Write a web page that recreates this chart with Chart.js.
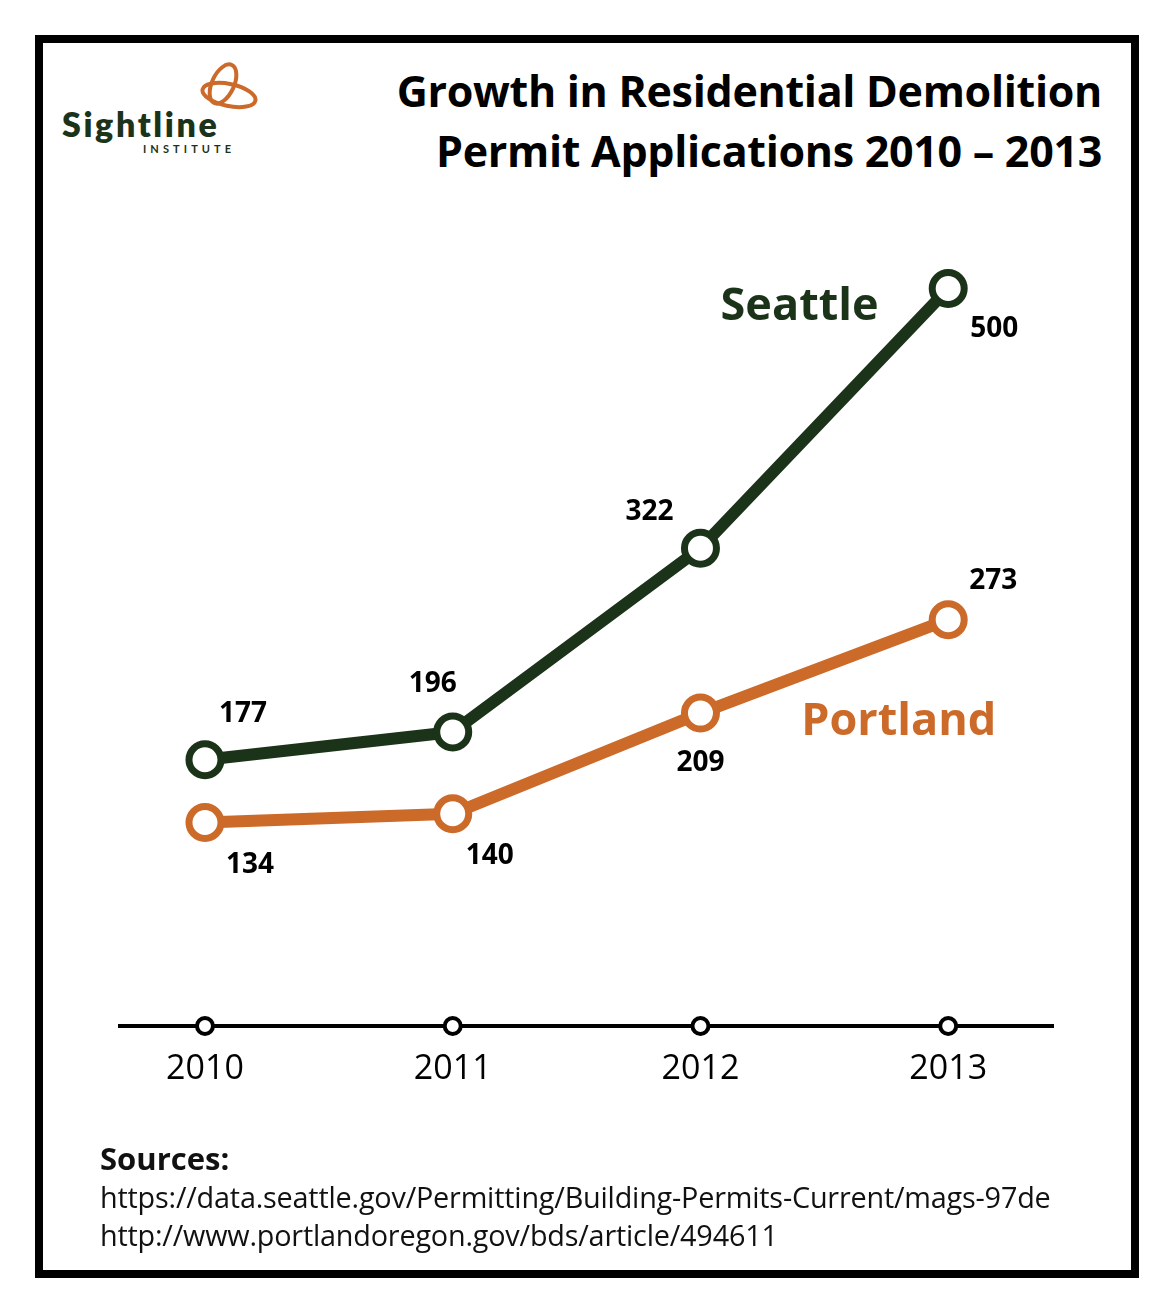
<!DOCTYPE html>
<html>
<head>
<meta charset="utf-8">
<script src="https://cdn.jsdelivr.net/npm/chart.js@4"></script>
<style>
  html, body { margin: 0; padding: 0; background: #fff; }
  body { width: 1175px; height: 1315px; position: relative; overflow: hidden; font-family: "Open Sans", sans-serif; }
  #frame { position: absolute; left: 35px; top: 35px; width: 1088px; height: 1227px; border: 8.5px solid #000; }
  #wrap { position: absolute; left: 0; top: 0; width: 1175px; height: 1315px; }
  .title { position: absolute; right: 73px; top: 61px; text-align: right; font-weight: 700; font-size: 43px; line-height: 60px; color: #000; letter-spacing: -0.3px; white-space: nowrap; }
  .sources { position: absolute; left: 100px; top: 1138px; color: #111; }
  .sources .h { font-weight: 700; font-size: 31px; line-height: 40px; }
  .sources .u { font-size: 28.8px; line-height: 38px; letter-spacing: -0.2px; white-space: nowrap; }
  .logo { position: absolute; left: 58px; top: 55px; }
  .logo .name { position: absolute; left: 4px; top: 48px; font-family: "Lato", sans-serif; font-weight: 800; font-size: 34px; color: #1b3318; letter-spacing: 2.6px; white-space: nowrap; }
  .logo .inst { position: absolute; left: 85px; top: 87px; font-family: "Lato", sans-serif; font-weight: 700; font-size: 11px; color: #1b3318; letter-spacing: 4.1px; white-space: nowrap; }
</style>
</head>
<body>
<div id="frame"></div>
<div class="logo">
  <svg width="210" height="60" style="position:absolute;left:0;top:0">
    <g fill="none" stroke="#cc6a2a" stroke-width="4">
      <ellipse cx="165" cy="29" rx="11" ry="21" transform="rotate(25 165 29)"/>
      <ellipse cx="171" cy="40" rx="27" ry="11" transform="rotate(12 171 40)"/>
    </g>
  </svg>
  <div class="name">Sightline</div>
  <div class="inst">INSTITUTE</div>
</div>
<div class="title">Growth in Residential Demolition<br>Permit Applications 2010 – 2013</div>
<div id="wrap"><canvas id="c"></canvas></div>
<div class="sources">
  <div class="h">Sources:</div>
  <div class="u">https://data.seattle.gov/Permitting/Building-Permits-Current/mags-97de</div>
  <div class="u">http://www.portlandoregon.gov/bds/article/494611</div>
</div>
<script>
// ---- data ----
const years = ['2010', '2011', '2012', '2013'];
const seattle = [177, 196, 322, 500];
const portland = [134, 140, 209, 273];
const seriesNames = ['Seattle', 'Portland'];

// ---- styles ----
const colors = ['#1b3318', '#cc6a2a'];
const labelOffsets = [
  [[38, -46], [-20, -48], [-51, -36], [46, 40]],
  [[45, 43], [37, 42], [0, 50], [45, -39]]
];
const seriesLabelAt = [{ x: 2012.4, y: 487 }, { x: 2012.8, y: 203 }];

const toPts = vals => vals.map((v, i) => ({ x: Number(years[i]), y: v }));

const labelPlugin = {
  id: 'labels',
  afterDatasetsDraw(chart) {
    const ctx = chart.ctx;
    ctx.save();
    ctx.textAlign = 'center';
    ctx.textBaseline = 'middle';
    chart.data.datasets.forEach((ds, di) => {
      const meta = chart.getDatasetMeta(di);
      ctx.font = 'bold 28px "Open Sans"';
      ctx.fillStyle = '#000';
      meta.data.forEach((pt, i) => {
        const o = labelOffsets[di][i];
        ctx.fillText(String(ds.data[i].y), pt.x + o[0], pt.y + o[1]);
      });
      const p = seriesLabelAt[di];
      ctx.font = 'bold 45px "Open Sans"';
      ctx.fillStyle = colors[di];
      ctx.fillText(ds.label, chart.scales.x.getPixelForValue(p.x), chart.scales.y.getPixelForValue(p.y));
    });
    ctx.restore();
  },
  afterDraw(chart) {
    const ctx = chart.ctx;
    const xs = chart.scales.x;
    const yb = chart.chartArea.bottom;
    ctx.save();
    xs.ticks.forEach(t => {
      ctx.beginPath();
      ctx.arc(xs.getPixelForValue(t.value), yb, 8, 0, Math.PI * 2);
      ctx.fillStyle = '#fff';
      ctx.fill();
      ctx.lineWidth = 4;
      ctx.strokeStyle = '#000';
      ctx.stroke();
    });
    ctx.restore();
  }
};

new Chart(document.getElementById('c'), {
  type: 'line',
  data: {
    datasets: [
      { label: seriesNames[0], data: toPts(seattle), borderColor: colors[0], pointBorderColor: colors[0] },
      { label: seriesNames[1], data: toPts(portland), borderColor: colors[1], pointBorderColor: colors[1] }
    ]
  },
  options: {
    responsive: true,
    maintainAspectRatio: false,
    animation: false,
    events: [],
    layout: { padding: { left: 120, right: 122, top: 201, bottom: 219 } },
    elements: {
      line: { borderWidth: 12, tension: 0, borderCapStyle: 'round', borderJoinStyle: 'round' },
      point: { radius: 16, borderWidth: 7, backgroundColor: '#fff' }
    },
    plugins: { legend: { display: false }, tooltip: { enabled: false } },
    scales: {
      x: {
        type: 'linear',
        min: 2009.657,
        max: 2013.423,
        grid: { display: false, drawTicks: false },
        border: { display: true, color: '#000', width: 4 },
        afterFit: s => { s.height = 70; },
        ticks: {
          stepSize: 1,
          includeBounds: false,
          autoSkip: false,
          maxRotation: 0,
          padding: 23,
          color: '#000',
          font: { family: 'Open Sans', size: 34 },
          callback: v => String(v)
        }
      },
      y: {
        display: false,
        min: -5.5,
        max: 560
      }
    }
  },
  plugins: [labelPlugin]
});
</script>
</body>
</html>
